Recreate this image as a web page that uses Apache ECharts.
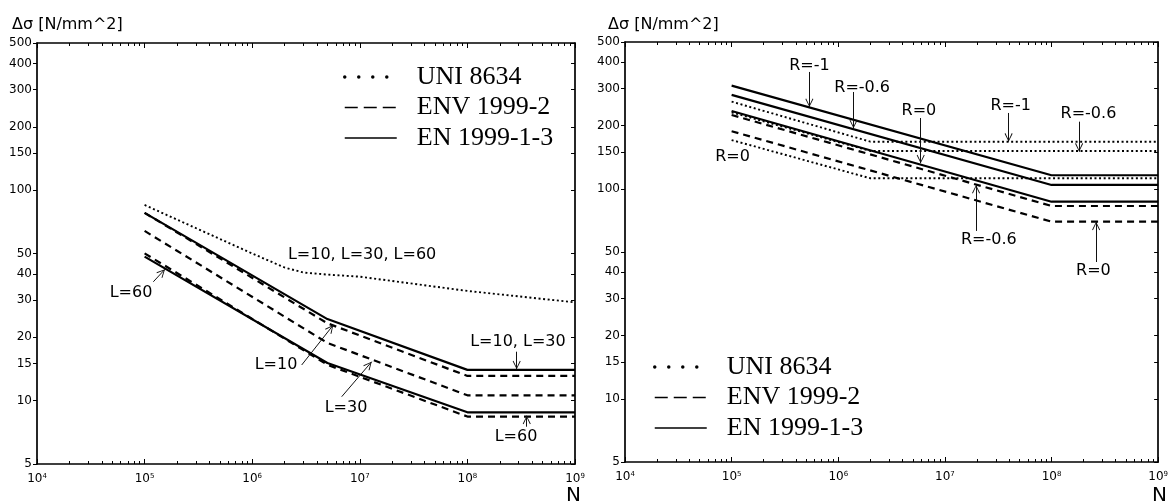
<!DOCTYPE html>
<html><head><meta charset="utf-8">
<script src="https://cdn.jsdelivr.net/npm/echarts@6/dist/echarts.min.js"></script>
<style>html,body{margin:0;padding:0;background:#fff}#c{width:1171px;height:504px}</style>
</head><body><div id="c"></div>
<script>
// ---------- axes ----------
const X_MIN = 1e4, X_MAX = 1e9, Y_MIN = 5, Y_MAX = 500;
const X_TICKS = [1e4, 1e5, 1e6, 1e7, 1e8, 1e9];
const X_MINOR = [];
for (let d = 4; d <= 8; d++) for (let k = 2; k <= 9; k++) X_MINOR.push(k * Math.pow(10, d));
const Y_TICKS = [5, 10, 15, 20, 30, 40, 50, 100, 150, 200, 300, 400, 500];
const LEGEND_NAMES = ['UNI 8634', 'ENV 1999-2', 'EN 1999-1-3'];
const Y_TITLE = 'Δσ [N/mm^2]';
const X_TITLE = 'N';

// ---------- left chart data  [N, Δσ] ----------
const uniL = [[1e5, 85], [1e6, 50], [2e6, 42.9], [3e6, 40.6], [5e6, 39.7], [1e7, 38.8], [1e8, 33.2], [1e9, 29.3]];
const envL10 = [[1e5, 78], [5e6, 23.3], [1e8, 13.1], [1e9, 13.1]];
const envL30 = [[1e5, 64], [5e6, 18.8], [1e8, 10.6], [1e9, 10.6]];
const envL60 = [[1e5, 50.1], [5e6, 14.8], [1e8, 8.4], [1e9, 8.4]];
const enL1030 = [[1e5, 78], [5e6, 24.4], [1e8, 14.0], [1e9, 14.0]];
const enL60 = [[1e5, 48.3], [5e6, 15.1], [1e8, 8.8], [1e9, 8.8]];

// ---------- right chart data  [N, Δσ] ----------
const uniRm1 = [[1e5, 260], [2e6, 167.6], [1e9, 167.6]];
const uniRm06 = [[1e5, 231], [2e6, 151.4], [1e9, 151.4]];
const uniR0 = [[1e5, 170.6], [2e6, 112.2], [1e9, 112.2]];
const enRm1 = [[1e5, 310], [1e8, 116], [1e9, 116]];
const enRm06 = [[1e5, 280], [1e8, 104.3], [1e9, 104.3]];
const enR0 = [[1e5, 234.6], [1e8, 86.8], [1e9, 86.8]];
const envRm06 = [[1e5, 224.6], [1e8, 82.8], [1e9, 82.8]];
const envR0 = [[1e5, 188], [1e8, 69.7], [1e9, 69.7]];

// ---------- annotations (data coordinates) ----------
const notesLeft = [
  { text: 'L=10, L=30, L=60', at: [1.05e7, 49.2] },
  { text: 'L=60', at: [7.47e4, 32.5], from: [1.205e5, 36.7], to: [1.547e5, 42.1] },
  { text: 'L=10', at: [1.665e6, 14.77], from: [2.884e6, 14.77], to: [5.67e6, 22.87] },
  { text: 'L=30', at: [7.44e6, 9.23], from: [6.79e6, 10.44], to: [1.29e7, 15.31] },
  { text: 'L=10, L=30', at: [2.95e8, 19.0], from: [2.87e8, 17.08], to: [2.87e8, 14.09] },
  { text: 'L=60', at: [2.83e8, 6.72], from: [3.56e8, 7.52], to: [3.56e8, 8.48] }
];
const notesRight = [
  { text: 'R=-1', at: [5.36e5, 384], from: [5.36e5, 360], to: [5.36e5, 245] },
  { text: 'R=-0.6', at: [1.676e6, 302], from: [1.39e6, 289], to: [1.39e6, 194] },
  { text: 'R=0', at: [1.02e5, 141.7] },
  { text: 'R=0', at: [5.71e6, 234.7], from: [5.93e6, 217.3], to: [5.93e6, 132.3] },
  { text: 'R=-1', at: [4.14e7, 248], from: [3.96e7, 229.6], to: [3.96e7, 167.6] },
  { text: 'R=-0.6', at: [2.22e8, 227], from: [1.815e8, 208.7], to: [1.815e8, 150.2] },
  { text: 'R=-0.6', at: [2.58e7, 57.0], from: [1.96e7, 63], to: [1.96e7, 104.3] },
  { text: 'R=0', at: [2.47e8, 40.6], from: [2.62e8, 44.8], to: [2.62e8, 69.7] }
];

// ---------- styling ----------
const FONT = 'DejaVu Sans';
const LINE_STYLE = {
  'UNI 8634': { type: [2, 2.6], width: 1.9 },
  'ENV 1999-2': { type: [7, 5], width: 2.2 },
  'EN 1999-1-3': { type: 'solid', width: 2.2 }
};
const CHEVRON = 'path://M-9,-9M9,9M0,0L4,8L3.2,8.6L0,1.8L-3.2,8.6L-4,8Z';

const grids = [
  { left: 37, top: 43, width: 538, height: 421 },
  { left: 625, top: 42, width: 535, height: 420 }
];

const xAxes = [], yAxes = [];
function addX(gi, pos, ticks, len, line, label) {
  xAxes.push({
    type: 'log', logBase: 10, gridIndex: gi, position: pos, min: X_MIN, max: X_MAX,
    axisLine: { show: line, onZero: false, lineStyle: { color: '#000', width: 1.6 } },
    axisTick: { show: true, inside: true, length: len, customValues: ticks, lineStyle: { color: '#000', width: 1 } },
    splitLine: { show: false }, minorTick: { show: false },
    axisLabel: label ? {
      show: true, customValues: X_TICKS, margin: 9,
      formatter: v => '{b|10}{s|' + Math.round(Math.log10(v)) + '}',
      rich: {
        b: { fontSize: 12, fontFamily: FONT, color: '#000', lineHeight: 12, padding: [5, 0, 0, 0], verticalAlign: 'bottom' },
        s: { fontSize: 7, fontFamily: FONT, color: '#000', lineHeight: 8, verticalAlign: 'top' }
      }
    } : { show: false }
  });
}
function addY(gi, pos, inside, label) {
  yAxes.push({
    type: 'log', logBase: 10, gridIndex: gi, position: pos, min: Y_MIN, max: Y_MAX,
    axisLine: { show: true, onZero: false, lineStyle: { color: '#000', width: 1.7 } },
    axisTick: { show: true, inside: inside, length: 4, customValues: Y_TICKS, lineStyle: { color: '#000', width: 1 } },
    splitLine: { show: false }, minorTick: { show: false },
    axisLabel: label ? {
      show: true, customValues: Y_TICKS, margin: 5, color: '#000', fontSize: 12, fontFamily: FONT,
      formatter: v => String(Math.round(v))
    } : { show: false }
  });
}
[0, 1].forEach(gi => {
  addX(gi, 'bottom', X_TICKS, 5, true, true);
  addX(gi, 'bottom', X_MINOR, 3, false, false);
  addX(gi, 'top', X_TICKS, 5, true, false);
  addX(gi, 'top', X_MINOR, 3, false, false);
  addY(gi, 'left', false, true);
  addY(gi, 'right', true, false);
});

function curve(name, data, gi) {
  return {
    type: 'line', name: name, data: data, xAxisIndex: gi * 4, yAxisIndex: gi * 2,
    symbol: 'none', smooth: false, silent: true,
    lineStyle: Object.assign({ color: '#000' }, LINE_STYLE[name]),
    itemStyle: { color: '#000' }
  };
}
function notesSeries(notes, gi) {
  return {
    type: 'line', name: 'notes' + gi, data: [], xAxisIndex: gi * 4, yAxisIndex: gi * 2,
    symbol: 'none', silent: true,
    markPoint: {
      symbol: 'rect', symbolSize: 1, itemStyle: { color: 'rgba(0,0,0,0)' }, silent: true,
      label: { show: true, position: 'inside', color: '#000', fontSize: 16, fontFamily: FONT },
      data: notes.map(n => ({ coord: n.at, value: 0, label: { formatter: n.text } }))
    },
    markLine: {
      silent: true, animation: false,
      label: { show: false },
      lineStyle: { color: '#111', width: 1, type: 'solid' },
      data: notes.filter(n => n.from).map(n => [
        { coord: n.from, symbol: 'none' },
        { coord: n.to, symbol: CHEVRON, symbolSize: 18 }
      ])
    }
  };
}

const series = [
  curve('UNI 8634', uniL, 0),
  curve('ENV 1999-2', envL10, 0),
  curve('ENV 1999-2', envL30, 0),
  curve('ENV 1999-2', envL60, 0),
  curve('EN 1999-1-3', enL1030, 0),
  curve('EN 1999-1-3', enL60, 0),
  curve('UNI 8634', uniRm1, 1),
  curve('UNI 8634', uniRm06, 1),
  curve('UNI 8634', uniR0, 1),
  curve('EN 1999-1-3', enRm1, 1),
  curve('EN 1999-1-3', enRm06, 1),
  curve('EN 1999-1-3', enR0, 1),
  curve('ENV 1999-2', envRm06, 1),
  curve('ENV 1999-2', envR0, 1),
  notesSeries(notesLeft, 0),
  notesSeries(notesRight, 1)
];

const legendItems = [
  { name: LEGEND_NAMES[0], itemStyle: { opacity: 0 }, lineStyle: { type: [0.01, 14], width: 3.5, cap: 'round', color: '#000' } },
  { name: LEGEND_NAMES[1], itemStyle: { opacity: 0 }, lineStyle: { type: [13, 6], width: 1.3, color: '#000' } },
  { name: LEGEND_NAMES[2], itemStyle: { opacity: 0 }, lineStyle: { type: 'solid', width: 1.3, color: '#000' } }
];
function legend(left, top) {
  return {
    orient: 'vertical', left: left, top: top, padding: 0,
    itemWidth: 52, itemHeight: 14, itemGap: 0.5, selectedMode: false,
    itemStyle: { opacity: 0 },
    textStyle: { fontFamily: 'Liberation Serif', fontSize: 26, lineHeight: 16, color: '#000', padding: [0, 0, 14, 15] },
    data: legendItems
  };
}

const option = {
  animation: false,
  backgroundColor: '#fff',
  grid: grids,
  xAxis: xAxes,
  yAxis: yAxes,
  legend: [legend(343, 62), legend(653, 352)],
  graphic: [
    { type: 'text', left: 12, top: 17, style: { text: Y_TITLE, font: '16px "DejaVu Sans"', fill: '#000' } },
    { type: 'text', left: 608, top: 17, style: { text: Y_TITLE, font: '16px "DejaVu Sans"', fill: '#000' } },
    { type: 'text', left: 566, top: 486, style: { text: X_TITLE, font: '20px "DejaVu Sans"', fill: '#000' } },
    { type: 'text', left: 1152, top: 486, style: { text: X_TITLE, font: '20px "DejaVu Sans"', fill: '#000' } }
  ],
  series: series
};
const chart = echarts.init(document.getElementById('c'), null, { renderer: 'canvas' });
chart.setOption(option);
</script></body></html>
